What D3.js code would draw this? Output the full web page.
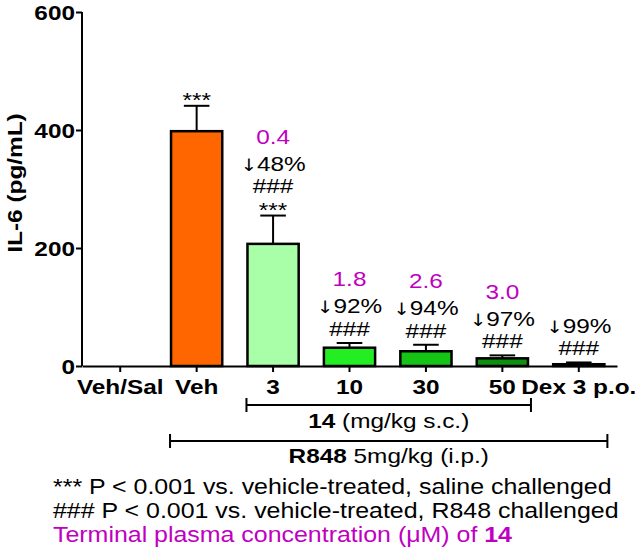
<!DOCTYPE html>
<html>
<head>
<meta charset="utf-8">
<script src="https://cdn.jsdelivr.net/npm/d3@7"></script>
<style>
  html, body { margin: 0; padding: 0; background: #fff; }
  svg { display: block; }
  text { font-family: "Liberation Sans", Arial, Helvetica, sans-serif; }
</style>
</head>
<body>
<svg id="chart" width="635" height="559"></svg>
<script>
// ---------------- data ----------------
const categories = ["Veh/Sal", "Veh", "3", "10", "30", "50", "Dex 3 p.o."];
const means      = [0, 398, 207, 31, 25, 13, 3];
const sems       = [0, 43, 48, 8, 11, 5, 3];
const barColors  = ["#ffffff", "#ff6600", "#a8ffa8", "#22ee22", "#16c416", "#0d900d", "#ffffff"];
const plasmaConc = [null, null, "0.4", "1.8", "2.6", "3.0", null];
const reductions = [null, null, "48%", "92%", "94%", "97%", "99%"];
const hashSig    = [null, null, "###", "###", "###", "###", "###"];
const starSig    = [null, "***", "***", null, null, null, null];
const yTicks     = [0, 200, 400, 600];
const yTitle     = "IL-6 (pg/mL)";
const compoundGroup = ["3", "50"];
const r848Group     = ["Veh", "Dex 3 p.o."];
const footnotes  = [
  "*** P < 0.001 vs. vehicle-treated, saline challenged",
  "### P < 0.001 vs. vehicle-treated, R848 challenged"
];

// ---------------- layout ----------------
const SX = 1.16;          // horizontal stretch of the original lettering
const MAGENTA = "#c000c0";
const svg = d3.select("#chart");

const x = d3.scaleBand().domain(categories).range([82, 617])
  .paddingInner(0.33).paddingOuter(0.165);
const y = d3.scaleLinear().domain([0, 600]).range([366, 12]);
const bw = x.bandwidth();
const cx = c => x(c) + bw / 2;

function label(parent, px, py, parts, opts = {}) {
  const t = parent.append("text")
    .attr("transform", `translate(${px},${py}) ${opts.rotate ? "rotate(" + opts.rotate + ")" : ""} scale(${SX},1)`)
    .attr("text-anchor", opts.anchor || "middle")
    .attr("font-size", opts.size || 21)
    .attr("fill", opts.fill || "#000");
  if (opts.dy) t.attr("dy", opts.dy);
  (Array.isArray(parts) ? parts : [{ t: parts, b: opts.bold }]).forEach(p => {
    const s = t.append("tspan").text(p.t).attr("font-weight", p.b ? "bold" : "normal");
    if (p.f) s.attr("font-family", p.f);
    if (p.s) s.attr("font-size", p.s);
  });
  return t;
}

const rows = categories.map((c, i) => ({
  c, m: means[i], s: sems[i], col: barColors[i],
  plasma: plasmaConc[i], red: reductions[i], hash: hashSig[i], star: starSig[i]
}));

// ---------------- bars ----------------
const barRows = rows.filter(d => d.m > 0);
svg.append("g").selectAll("rect").data(barRows).join("rect")
  .attr("x", d => x(d.c))
  .attr("y", d => y(d.m))
  .attr("width", bw)
  .attr("height", d => y(0) - y(d.m))
  .attr("fill", d => d.col)
  .attr("stroke", "#000")
  .attr("stroke-width", 2.5);

// error bars (upper only)
const eg = svg.append("g").attr("stroke", "#000").attr("stroke-width", 2);
eg.selectAll("line.v").data(barRows).join("line").attr("class", "v")
  .attr("x1", d => cx(d.c)).attr("x2", d => cx(d.c))
  .attr("y1", d => y(d.m)).attr("y2", d => y(d.m + d.s));
eg.selectAll("line.h").data(barRows).join("line").attr("class", "h")
  .attr("x1", d => cx(d.c) - bw / 4).attr("x2", d => cx(d.c) + bw / 4)
  .attr("y1", d => y(d.m + d.s)).attr("y2", d => y(d.m + d.s));

// ---------------- axes ----------------
const yAxis = d3.axisLeft(y).tickValues(yTicks).tickSize(6).tickFormat("");
const gy = svg.append("g").attr("transform", "translate(82,0)").call(yAxis);
gy.select(".domain").attr("stroke-width", 2).attr("d", `M0,${y(600)}V${y(0)}`);
gy.selectAll(".tick line").attr("stroke-width", 2);
yTicks.forEach(v => label(svg, 75, y(v), String(v), { anchor: "end", bold: true, dy: "0.36em", size: 21 }));

const xAxis = d3.axisBottom(x).tickSize(6).tickSizeOuter(0).tickFormat("");
const gx = svg.append("g").attr("transform", `translate(0,${y(0)})`).call(xAxis);
gx.select(".domain").attr("stroke-width", 2);
gx.selectAll(".tick line").attr("stroke-width", 2);
categories.forEach(c => label(svg, cx(c), 394, c, { bold: true, size: 21 }));

label(svg, 22, 183, yTitle, { rotate: -90, bold: true, size: 21 });

// ---------------- annotations ----------------
const ag = svg.append("g");
rows.forEach(d => {
  if (d.m <= 0) return;
  const top = y(d.m + d.s);
  let b = top;
  if (d.star) { label(ag, cx(d.c), b + 1.5, d.star, { size: 21 }); b -= 22.5; }
  else b -= 7;
  if (d.hash) { label(ag, cx(d.c), b, d.hash, { size: 21 }); b -= 22.5; }
  if (d.red) {
    label(ag, cx(d.c), b, [{ t: "\u2193", f: "DejaVu Sans", s: 17 }, { t: d.red }], { size: 21 });
    b -= 27;
  }
  if (d.plasma) label(ag, cx(d.c), b, d.plasma, { size: 21, fill: MAGENTA });
});

// ---------------- group brackets ----------------
function bracket(group, ly, parts, ty) {
  const x1 = x(group[0]) - 1, x2 = x(group[1]) + bw + 3;
  const g = svg.append("g").attr("stroke", "#000").attr("stroke-width", 2).attr("fill", "none");
  g.append("path").attr("d", `M${x1},${ly - 7}V${ly + 7}M${x1},${ly}H${x2}M${x2},${ly - 7}V${ly + 7}`);
  label(svg, (x1 + x2) / 2, ty, parts, { size: 21 });
}
bracket(compoundGroup, 405, [{ t: "14", b: true }, { t: " (mg/kg s.c.)" }], 428);
bracket(r848Group, 441, [{ t: "R848", b: true }, { t: " 5mg/kg (i.p.)" }], 463);

// ---------------- footnotes ----------------
footnotes.forEach((f, i) => label(svg, 53, 494 + i * 24, f, { anchor: "start", size: 21.5 }));
label(svg, 53, 542, [{ t: "Terminal plasma concentration (\u03bcM) of " }, { t: "14", b: true }],
  { anchor: "start", size: 21.5, fill: MAGENTA });
</script>
</body>
</html>
